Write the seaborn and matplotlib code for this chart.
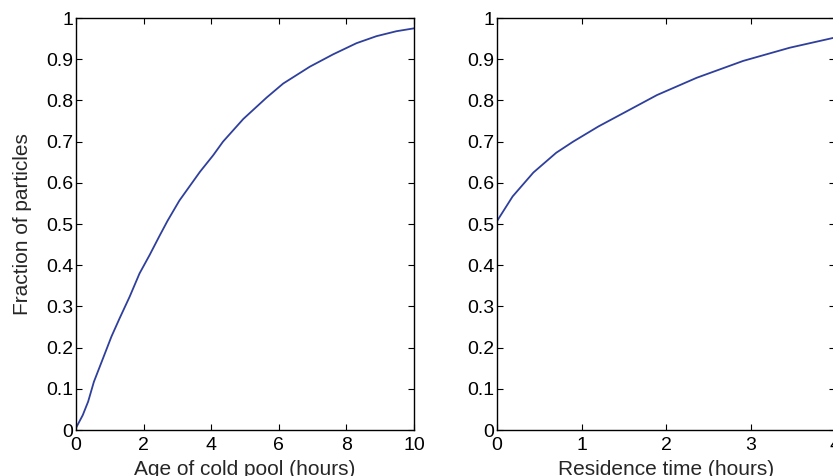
import matplotlib
matplotlib.use("Agg")
import matplotlib.pyplot as plt
import matplotlib.ticker as mticker
import seaborn as sns
import pandas as pd

# Left panel: cumulative fraction vs age of cold pool
age_hours = [0, 0.2, 0.36, 0.53, 0.8, 1.05, 1.29, 1.59, 1.88, 2.18, 2.47, 2.71,
             3.06, 3.67, 4.06, 4.35, 4.95, 5.64, 6.13, 6.92, 7.61, 8.30, 8.89,
             9.48, 10]
age_fraction = [0.005, 0.036, 0.069, 0.117, 0.174, 0.227, 0.271, 0.324, 0.38,
                0.425, 0.471, 0.508, 0.557, 0.627, 0.667, 0.700, 0.755, 0.807,
                0.841, 0.882, 0.912, 0.939, 0.956, 0.968, 0.975]

# Right panel: cumulative fraction vs residence time
res_hours = [0, 0.185, 0.43, 0.70, 0.9, 1.2, 1.5, 1.89, 2.36, 2.91, 3.46, 4.0]
res_fraction = [0.507, 0.567, 0.625, 0.673, 0.70, 0.737, 0.770, 0.813, 0.855,
                0.896, 0.928, 0.953]

sns.set_style("ticks")
plt.rcParams['font.family'] = ['Liberation Sans', 'DejaVu Sans']

line_color = "#2f3f9c"

fig = plt.figure(figsize=(8.33, 4.76), dpi=100)
ax1 = fig.add_axes([0.0912, 0.0966, 0.4058, 0.8655])
ax2 = fig.add_axes([0.5966, 0.0966, 0.4064, 0.8655])

df_age = pd.DataFrame({"hours": age_hours, "fraction": age_fraction})
df_res = pd.DataFrame({"hours": res_hours, "fraction": res_fraction})

sns.lineplot(data=df_age, x="hours", y="fraction", ax=ax1, color=line_color, linewidth=1.3)
sns.lineplot(data=df_res, x="hours", y="fraction", ax=ax2, color=line_color, linewidth=1.3)

fmt = mticker.FuncFormatter(lambda v, p: f"{v:g}")
for ax, xmax, xstep in [(ax1, 10, 2), (ax2, 4, 1)]:
    ax.set_xlim(0, xmax)
    ax.set_ylim(0, 1)
    ax.set_xticks([i * xstep for i in range(int(xmax / xstep) + 1)])
    ax.set_yticks([i / 10 for i in range(11)])
    ax.xaxis.set_major_formatter(fmt)
    ax.yaxis.set_major_formatter(fmt)
    ax.tick_params(direction="in", top=True, right=True, length=4, width=0.8,
                   labelsize=14, pad=2, colors="black")
    ax.tick_params(axis="x", pad=5)
    for s in ax.spines.values():
        s.set_visible(True)
        s.set_linewidth(1.0)
        s.set_color("black")
    ax.set_ylabel("")

ax1.set_xlabel("Age of cold pool (hours)", fontsize=15, labelpad=4)
ax1.set_ylabel("Fraction of particles", fontsize=15, labelpad=10)
ax2.set_xlabel("Residence time (hours)", fontsize=15, labelpad=4)

fig.savefig("out.png", dpi=100)
